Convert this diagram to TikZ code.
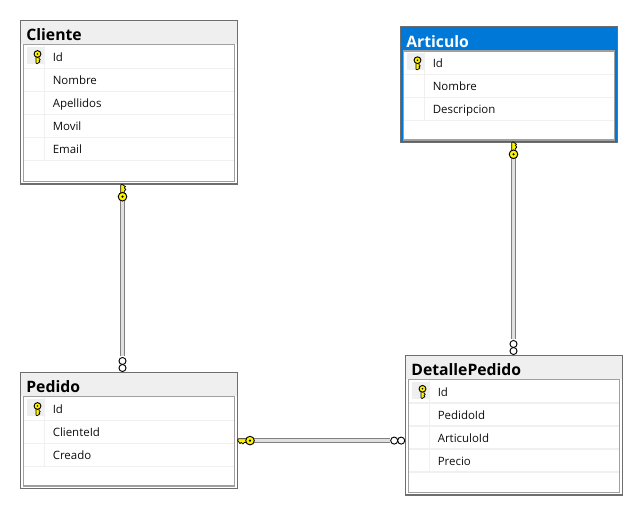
\documentclass[tikz,border=0pt]{standalone}
\usepackage{fontspec}
\setmainfont{Open Sans}
\definecolor{frameline}{HTML}{6E6E6E}
\definecolor{innerline}{HTML}{A0A0A0}
\definecolor{rowline}{HTML}{F0F0F0}
\definecolor{plainhead}{HTML}{EFEFEF}
\definecolor{selhead}{HTML}{0078D7}
\definecolor{keyyellow}{HTML}{FFF200}
\tikzset{
  x=0.75pt,y=-0.75pt,
  framebox/.style={draw=frameline,line width=1.1pt,inner sep=0pt,outer sep=0pt,minimum width=162.75pt,anchor=north west},
  innerbox/.style={draw=innerline,line width=1.1pt,fill=white,inner sep=0pt,outer sep=0pt,minimum width=158.25pt,anchor=north west},
  headtitle/.style={font=\fontsize{11.8}{12}\selectfont\bfseries,anchor=base west,inner sep=0pt},
  rowtext/.style={font=\fontsize{8.6}{10}\selectfont,anchor=base west,inner sep=0pt,text=black!95},
  rel/.style={draw=black!50,line width=0.8pt,double=black!12,double distance=1.8pt,shorten >=0.8pt},
  loopmark/.style={circle,draw=black,fill=white,line width=0.7pt,minimum size=5.3pt,inner sep=0pt,outer sep=0pt},
  ringpoint/.style={circle,minimum size=0pt,inner sep=0pt},
  keyglyph/.pic={
    \draw[draw=black,fill=keyyellow,line width=0.55pt,line join=round]
      (-1.8,-2) -- (-1.8,-11.5) -- (-0.5,-12.5) -- (3,-10) -- (1.8,-8.8) -- (3.4,-7.2) -- (1.8,-5.6) -- (1.8,-2) -- cycle;
    \draw[draw=black,fill=keyyellow,line width=0.7pt] (0,0) circle[radius=4.3];
    \fill[black] (0,0) circle[radius=1.2];
  }
}
% name, x, y, height, frame colour, head colour, title colour, title, rows
\newcommand{\erdtable}[9]{
  \node[framebox,fill=#5,minimum height=#4*0.75pt] (#1) at (#2,#3) {};
  \fill[#6] (#2+0.6,#3+0.6) rectangle (#2+216.4,#3+24);
  \node[innerbox,minimum height=(#4-26.7)*0.75pt] (#1-body) at (#2+3,#3+24.2) {};
  \node[headtitle,text=#7] (#1-title) at (#2+5.6,#3+20.4) {#8};
  \fill[plainhead] (#2+6.5,#3+26.5) rectangle (#2+23,#3+43.5);
  \draw[rowline,line width=0.9pt] (#2+24,#3+25) -- (#2+24,#3+139.8-\rowgap);
  \foreach \rowlabel [count=\rownum] in {#9} {
    \node[rowtext] (#1-row\rownum) at (#2+32,#3+18.2+\rownum*23) {\rowlabel};
    \draw[rowline,line width=0.9pt] (#2+3.6,#3+24.8+\rownum*23) -- (#2+213.6,#3+24.8+\rownum*23);
  }
  \pic[xscale=0.8,yscale=-0.78] at (#2+17,#3+33.5) {keyglyph};
}
\begin{document}
\begin{tikzpicture}
\useasboundingbox (0,0) rectangle (643,516);
\fill[white] (0,0) rectangle (643,516);

\def\rowgap{0}
\erdtable{cliente}{20.5}{20.5}{163.5}{white}{plainhead}{black}{Cliente}{Id,Nombre,Apellidos,Movil,Email}
\def\rowgap{46}
\erdtable{articulo}{400.5}{26.7}{115.6}{selhead}{selhead}{white}{Articulo}{Id,Nombre,Descripcion}
\erdtable{pedido}{20.5}{372.5}{115.8}{white}{plainhead}{black}{Pedido}{Id,ClienteId,Creado}
\def\rowgap{23}
\erdtable{detalle}{405.5}{355.3}{139.7}{white}{plainhead}{black}{DetallePedido}{Id,PedidoId,ArticuloId,Precio}

% Cliente - Pedido
\node[ringpoint] (k1) at (122.5,196.7) {};
\node[loopmark] (m1a) at (122.5,361) {};
\node[loopmark] (m1b) at (122.5,368) {};
\draw[rel] (k1) -- (m1a);
\pic at (k1) {keyglyph};

% Articulo - DetallePedido
\node[ringpoint] (k2) at (513.5,154.3) {};
\node[loopmark] (m2a) at (513.5,344) {};
\node[loopmark] (m2b) at (513.5,351) {};
\draw[rel] (k2) -- (m2a);
\pic at (k2) {keyglyph};

% Pedido - DetallePedido
\node[ringpoint] (k3) at (250,440.6) {};
\node[loopmark] (m3a) at (394.2,440.6) {};
\node[loopmark] (m3b) at (401.2,440.6) {};
\draw[rel] (k3) -- (m3a);
\pic[rotate=90,xscale=-1] at (k3) {keyglyph};
\end{tikzpicture}
\end{document}
